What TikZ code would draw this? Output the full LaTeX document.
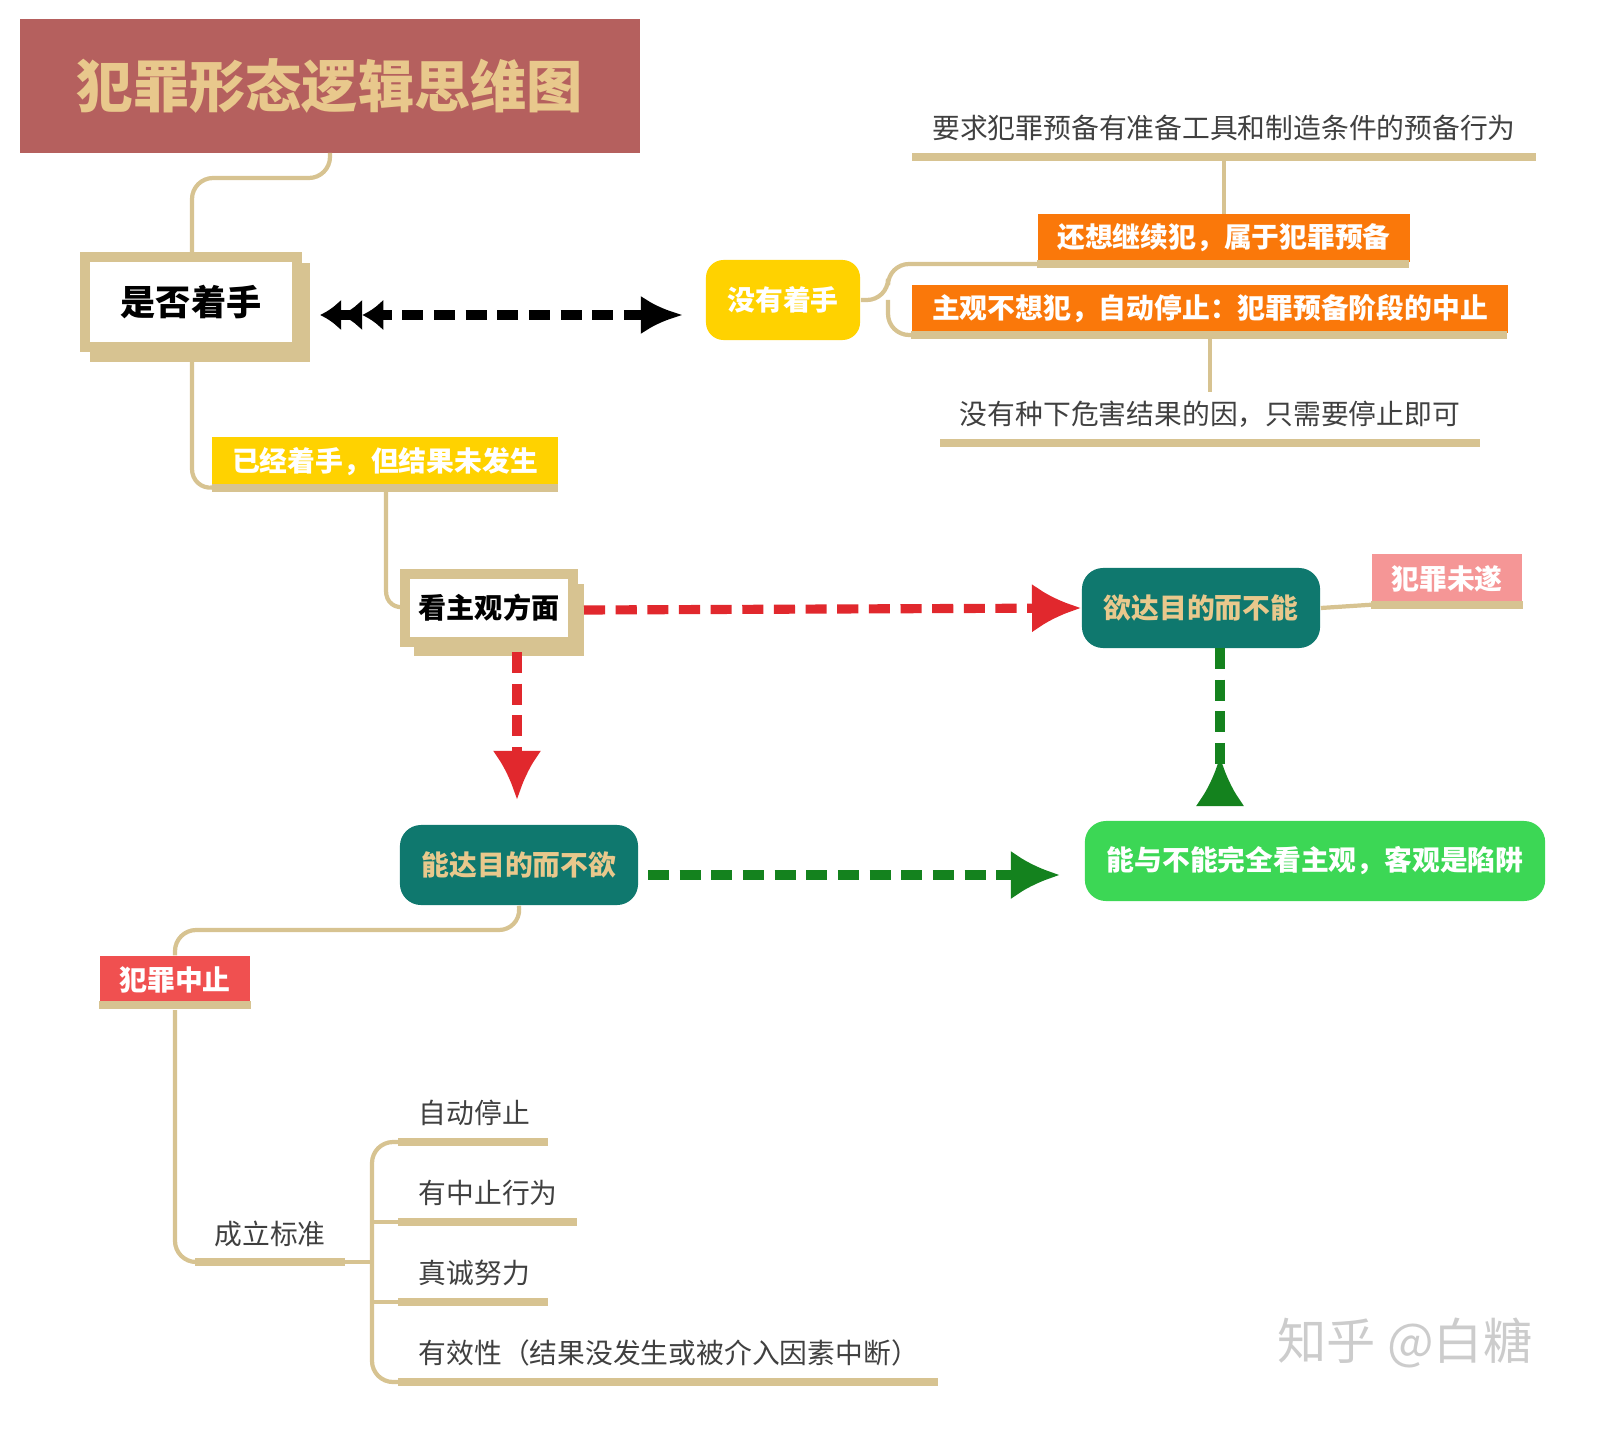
\documentclass[tikz,border=0pt]{standalone}
\usepackage{fontspec}
\setmainfont{Noto Sans CJK SC}
\usetikzlibrary{arrows.meta}
\usetikzlibrary{positioning}
\definecolor{mtan}{RGB}{215, 195, 145}
\definecolor{mtitle}{RGB}{181, 96, 94}
\definecolor{mtitletext}{RGB}{232, 200, 140}
\definecolor{myellow}{RGB}{255, 210, 0}
\definecolor{morange}{RGB}{250, 120, 10}
\definecolor{mteal}{RGB}{15, 120, 110}
\definecolor{mpink}{RGB}{245, 150, 150}
\definecolor{mred}{RGB}{240, 80, 80}
\definecolor{mgreen}{RGB}{60, 215, 85}
\definecolor{mdgreen}{RGB}{20, 130, 30}
\definecolor{marrowred}{RGB}{225, 40, 45}
\tikzset{link/.style = {draw=mtan, line width=1.2pt, rounded corners=6pt}}
\tikzset{uline/.style = {draw=mtan, line width=2.2pt}}
\tikzset{tag/.style = {font=\bfseries\fontsize{7.9}{10}\selectfont, text=white, inner sep=0pt}}
\tikzset{frame/.style = {draw=mtan, line width=2.6pt, fill=white, inner sep=0pt,
                         font=\bfseries\fontsize{10}{12}\selectfont}}
\tikzset{plain/.style = {font=\fontsize{7.9}{10}\selectfont, text=black!75, inner sep=0pt}}
\tikzset{dashlink/.style = {line width=2.6pt, dash pattern=on 6pt off 3pt}}

\begin{document}
\begin{tikzpicture}[x=0.01cm, y=-0.01cm]
      \useasboundingbox (0, 0) rectangle (1598, 1434);

      % title
      \node [fill=mtitle, minimum width=6.2cm, minimum height=1.33cm, text=mtitletext,
             font=\bfseries\fontsize{16}{20}\selectfont] (title) at (330, 86) {犯罪形态逻辑思维图};

      % is it started
      \fill [mtan] (90, 263) rectangle (310, 362);
      \node [frame, minimum width=2.12cm, minimum height=0.9cm] (start) at (191, 302) {是否着手};
      \draw [link] (330, 153) -- (330, 178) -- (192, 178) -- (192, 255);

      % not started
      \node [tag, fill=myellow, rounded corners=5pt, minimum width=1.54cm, minimum height=0.8cm]
            (none) at (783, 300) {没有着手};
      \draw [dashlink, {Latex[length=6pt, width=9pt] Latex[length=6pt, width=9pt] Latex[length=6pt, width=9pt]}-{Latex[length=12pt, width=11pt]}]
            (320, 315) -- (683, 315);
      \node [tag, fill=morange, minimum width=3.72cm, minimum height=0.47cm] (prep) at (1224, 238) {还想继续犯，属于犯罪预备};
      \node [tag, fill=morange, minimum width=5.96cm, minimum height=0.47cm] (stop) at (1210, 309) {主观不想犯，自动停止：犯罪预备阶段的中止};
      \draw [uline] (prep.south west) ++(0, 2) -- ++(372, 0);
      \draw [uline] (stop.south west) ++(0, 2) -- ++(596, 0);
      \draw [link] (none.east) -- (888, 300) -- (888, 264) -- (prep.south west |- 0, 264);
      \draw [link] (888, 300) -- (888, 335) -- (stop.south west |- 0, 335);

      \node [plain] (needtool) at (1224, 128) {要求犯罪预备有准备工具和制造条件的预备行为};
      \coordinate (needline) at (1224, 157);
      \draw [uline] (912, 157) -- (1536, 157);
      \draw [link] (needline) -- (prep.north -| needline);
      \node [plain] (nocause) at (1210, 414) {没有种下危害结果的因，只需要停止即可};
      \coordinate (causeline) at (1210, 392);
      \draw [uline] (940, 443) -- (1480, 443);
      \draw [link] (stop.south -| causeline) -- (causeline);

      % started
      \node [tag, fill=myellow, minimum width=3.45cm, minimum height=0.5cm] (begun) at (385, 462) {已经着手，但结果未发生};
      \draw [uline] (begun.south west) -- (begun.south east);
      \draw [link] (192, 352) -- (192, 490) -- (begun.south west);

      \fill [mtan] (414, 584) rectangle (584, 656);
      \node [frame, minimum width=1.68cm, minimum height=0.68cm,
             font=\bfseries\fontsize{8}{10}\selectfont] (mind) at (489, 608) {看主观方面};
      \draw [link] (386, 490) -- (386, 612) -- (mind.west);

      \node [tag, fill=mteal, text=mtitletext, rounded corners=6pt, minimum width=2.38cm, minimum height=0.8cm]
            (cannot) at (1201, 608) {欲达目的而不能};
      \node [tag, fill=mpink, minimum width=1.5cm, minimum height=0.5cm] (attempt) at (1447, 579) {犯罪未遂};
      \draw [uline] (attempt.south west) -- (attempt.south east);
      \draw [link] (cannot.east) -- (attempt.south west);

      \node [tag, fill=mteal, text=mtitletext, rounded corners=6pt, minimum width=2.38cm, minimum height=0.8cm]
            (wontdo) at (519, 865) {能达目的而不欲};
      \node [tag, fill=mgreen, rounded corners=6pt, minimum width=4.6cm, minimum height=0.8cm]
            (trap) at (1315, 861) {能与不能完全看主观，客观是陷阱};

      \draw [dashlink, marrowred, -{Latex[length=14pt, width=14pt]}] (584, 610) -- (cannot.west);
      \draw [dashlink, marrowred, -{Latex[length=14pt, width=14pt]}] (517, 652) -- (517, 800);
      \draw [dashlink, mdgreen, -{Latex[length=14pt, width=14pt]}] (648, 875) -- (1060, 875);
      \draw [dashlink, mdgreen, -{Latex[length=14pt, width=14pt, reversed]}] (1220, 648) -- (1220, 806);

      % suspension
      \node [tag, fill=mred, minimum width=1.5cm, minimum height=0.48cm] (halt) at (175, 980) {犯罪中止};
      \draw [uline] (halt.south west) -- (halt.south east);
      \draw [link] (wontdo.south) -- (520, 930) -- (175, 930) -- (halt.north);

      \node [plain] (rule) at (270, 1234) {成立标准};
      \draw [uline] (195, 1262) -- (345, 1262);
      \draw [link] (175, 1010) -- (175, 1262) -- (195, 1262);
      \draw [link] (345, 1262) -- (372, 1262);
      \draw [link] (398, 1142) -- (372, 1142) -- (372, 1382) -- (398, 1382);
      \draw [link] (372, 1222) -- (398, 1222);
      \draw [link] (372, 1302) -- (398, 1302);

      \node [plain, anchor=west] (auto) at (418, 1113) {自动停止};
      \node [plain, anchor=west] (act) at (418, 1193) {有中止行为};
      \node [plain, anchor=west] (effort) at (418, 1273) {真诚努力};
      \node [plain, anchor=west] (valid) at (418, 1353) {有效性（结果没发生或被介入因素中断）};
      \draw [uline] (398, 1142) -- (548, 1142);
      \draw [uline] (398, 1222) -- (577, 1222);
      \draw [uline] (398, 1302) -- (548, 1302);
      \draw [uline] (398, 1382) -- (938, 1382);

      \node [text=black!20, font=\fontsize{14}{16}\selectfont] (mark) at (1405, 1343) {知乎 @白糖};
    \end{tikzpicture}
\end{document}
